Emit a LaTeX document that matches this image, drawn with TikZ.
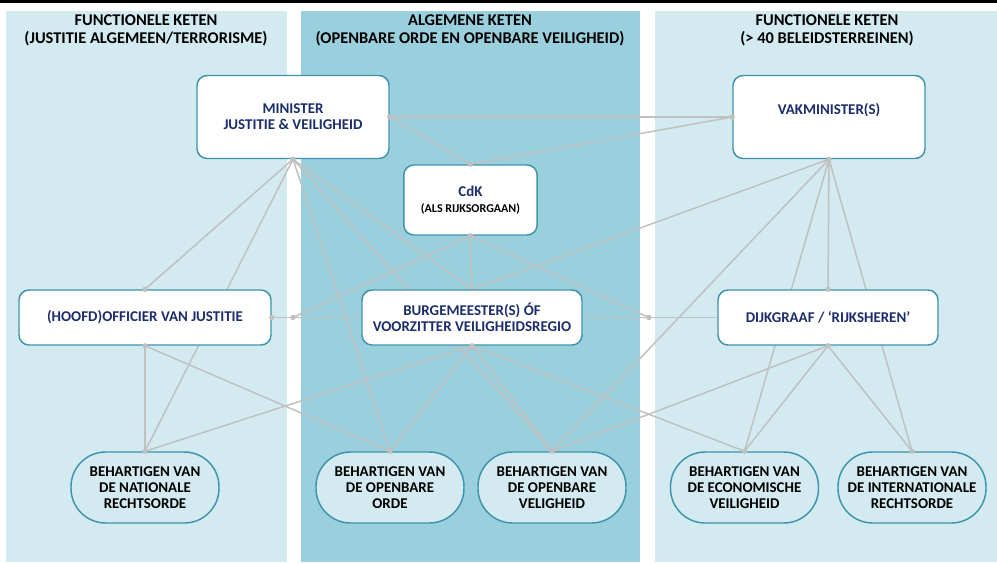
\documentclass[tikz,border=0pt]{standalone}
\usepackage{fontspec}
\setmainfont{Carlito}
\usetikzlibrary{backgrounds}
\definecolor{panellight}{HTML}{D2EAF0}
\definecolor{paneldark}{HTML}{9ACFDD}
\definecolor{boxedge}{HTML}{3F93AD}
\definecolor{navy}{HTML}{1C2D6B}
\definecolor{linkgray}{HTML}{C0C0C0}
\tikzset{
  box/.style={draw=boxedge, line width=1.1pt, fill=white, rounded corners=7.5pt,
    align=center, text=navy, font=\bfseries\fontsize{11.2}{12}\selectfont},
  goal/.style={draw=boxedge, line width=1.1pt, fill=panellight, rounded corners=26pt,
    minimum width=111pt, minimum height=53.25pt, align=center, text=black,
    font=\bfseries\fontsize{11.2}{12}\selectfont},
  header/.style={align=center, font=\bfseries\fontsize{12.3}{13.5}\selectfont},
  link/.style={draw=linkgray, line width=1.1pt},
}
\newcommand{\linkdot}[1]{\fill[linkgray] (#1) circle (2pt);}

\begin{document}
\begin{tikzpicture}[x=0.75pt, y=-0.75pt]
  \useasboundingbox (0,0) rectangle (997,562);

  \node[header] at (146,30.5) {FUNCTIONELE KETEN\\(JUSTITIE ALGEMEEN/TERRORISME)};
  \node[header] at (470,30.5) {ALGEMENE KETEN\\(OPENBARE ORDE EN OPENBARE VEILIGHEID)};
  \node[header] at (827,30.5) {FUNCTIONELE KETEN\\(> 40 BELEIDSTERREINEN)};

  \node[box, minimum width=144pt, minimum height=62.25pt] (minister) at (293,117) {MINISTER\\JUSTITIE \& VEILIGHEID};
  \node[box, minimum width=144pt, minimum height=62.25pt] (vak) at (829,117) {VAKMINISTER(S)\\~};
  \node[box, minimum width=100pt, minimum height=52.5pt] (cdk) at (470.5,200) {CdK\\{\color{black}\fontsize{9}{12}\selectfont (ALS RIJKSORGAAN)}};
  \node[box, minimum width=189pt, minimum height=41.25pt] (officer) at (145,317.5) {(HOOFD)OFFICIER VAN JUSTITIE};
  \node[box, minimum width=165pt, minimum height=41.25pt] (burg) at (472,317.5) {BURGEMEESTER(S) ÓF\\VOORZITTER VEILIGHEIDSREGIO};
  \node[box, minimum width=165pt, minimum height=41.25pt] (dijk) at (828,317.5) {DIJKGRAAF / ‘RIJKSHEREN’};

  \node[goal] (nat) at (145,487.5) {BEHARTIGEN VAN\\DE NATIONALE\\RECHTSORDE};
  \node[goal] (orde) at (390,487.5) {BEHARTIGEN VAN\\DE OPENBARE\\ORDE};
  \node[goal] (velig) at (552,487.5) {BEHARTIGEN VAN\\DE OPENBARE\\VELIGHEID};
  \node[goal] (econ) at (744.5,487.5) {BEHARTIGEN VAN\\DE ECONOMISCHE\\VEILIGHEID};
  \node[goal] (intl) at (912,487.5) {BEHARTIGEN VAN\\DE INTERNATIONALE\\RECHTSORDE};

  \coordinate (jl) at (293,317.5);
  \coordinate (jr) at (649,317.5);

  \begin{scope}[on background layer]
    \fill[black] (0,0) rectangle (997,3);
    \fill[panellight] (6,11) rectangle (287,562);
    \fill[paneldark] (301,11) rectangle (640,562);
    \fill[panellight] (655,11) rectangle (997,562);

    \draw[link] (minister.east) -- (vak.west);
    \draw[link] (minister.east) -- (cdk.north);
    \draw[link] (cdk.north) -- (vak.west);

    \draw[link] (minister.south) -- (officer.north);
    \draw[link] (minister.south) -- (nat.north);
    \draw[link] (minister.south) -- (orde.north);
    \draw[link] (minister.south) -- (velig.north);
    \draw[link] (minister.south) -- (burg.north);

    \draw[link] (cdk.south) -- (jl);
    \draw[link] (cdk.south) -- (burg.north);
    \draw[link] (cdk.south) -- (jr);

    \draw[link] (officer.east) -- (jl) -- (burg.west);
    \draw[link] (burg.east) -- (jr) -- (dijk.west);

    \draw[link] (officer.south) -- (nat.north);
    \draw[link] (officer.south) -- (orde.north);

    \draw[link] (burg.south) -- (nat.north);
    \draw[link] (burg.south) -- (orde.north);
    \draw[link] (burg.south) -- (velig.north);
    \draw[link] (burg.south) -- (econ.north);

    \draw[link] (vak.south) -- (burg.north);
    \draw[link] (vak.south) -- (velig.north);
    \draw[link] (vak.south) -- (econ.north);
    \draw[link] (vak.south) -- (dijk.north);
    \draw[link] (vak.south) -- (intl.north);

    \draw[link] (dijk.south) -- (velig.north);
    \draw[link] (dijk.south) -- (econ.north);
    \draw[link] (dijk.south) -- (intl.north);
  \end{scope}

  \linkdot{minister.south} \linkdot{minister.east}
  \linkdot{vak.south} \linkdot{vak.west}
  \linkdot{cdk.north} \linkdot{cdk.south}
  \linkdot{officer.north} \linkdot{officer.east} \linkdot{officer.south}
  \linkdot{jl} \linkdot{jr}
  \linkdot{burg.south} \linkdot{dijk.north} \linkdot{dijk.south}
  \linkdot{nat.north} \linkdot{orde.north} \linkdot{velig.north}
  \linkdot{econ.north} \linkdot{intl.north}
\end{tikzpicture}
\end{document}
